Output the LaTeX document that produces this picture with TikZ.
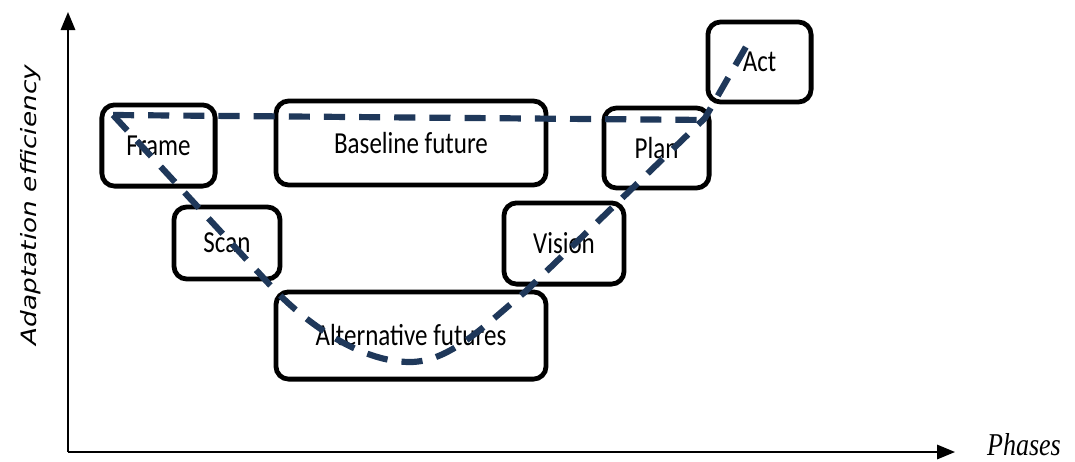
\documentclass[tikz,border=0pt]{standalone}
\usepackage{fontspec}
\setmainfont{Carlito}
\newfontfamily\axisfont{DejaVu Sans}
\newfontfamily\phasefont{Liberation Serif}
\usetikzlibrary{positioning}
\usetikzlibrary{arrows.meta}

\definecolor{routeblue}{RGB}{31,56,90}
\newcommand{\tall}[1]{\scalebox{1}[1.22]{#1}}

\begin{document}
\begin{tikzpicture}[x=0.025cm, y=-0.025cm,
  phase/.style={draw, line width=3.4pt, rounded corners=9pt, inner sep=0pt,
    font=\fontsize{17.8}{20}\selectfont},
  axis/.style={line width=1.4pt, -{Triangle[length=0.45cm, width=0.36cm]}},
  route/.style={routeblue, line width=4.4pt, dash pattern=on 15pt off 10pt}]
\useasboundingbox (0,0) rectangle (1075,461);

% axes
\coordinate (O) at (68,452);
\coordinate (Ytip) at (68,12);
\coordinate (Xtip) at (955,452);
\draw[axis] (O) -- (Ytip);
\draw[axis] (O) -- (Xtip);
\node[rotate=90, font=\axisfont\itshape\fontsize{15}{18}\selectfont]
  (ylab) at (31,205) {\scalebox{1.25}[1]{Adaptation efficiency}};
\node[inner sep=0pt, font=\phasefont\itshape\fontsize{18.5}{22}\selectfont]
  (xlab) at (1024,445) {\tall{Phases}};

% phases
\node[phase, minimum width=2.83cm, minimum height=2.03cm] (frame) at (158.5,145.5) {\tall{Frame}};
\node[phase, minimum width=2.65cm, minimum height=1.8cm] (scan) at (227,243) {\tall{Scan}};
\node[phase, minimum width=6.75cm, minimum height=2.1cm] (base) at (411,143) {\tall{Baseline future}};
\node[phase, minimum width=6.75cm, minimum height=2.18cm] (alt) at (411,335.5) {\tall{Alternative futures}};
\node[phase, minimum width=3.0cm, minimum height=2.03cm] (vision) at (564,243.5) {\tall{Vision}};
\node[phase, minimum width=2.63cm, minimum height=2.0cm] (plan) at (656.5,148) {\tall{Plan}};
\node[phase, minimum width=2.58cm, minimum height=2.0cm] (act) at (759.5,62) {\tall{Act}};

% dashed routes
\coordinate (start) at (113,115);
\coordinate (flatend) at (708,120);
\coordinate (down) at (270,285);
\coordinate (dip) at (410,362);
\coordinate (up) at (525,292);
\coordinate (kink) at (705,118);
\coordinate (top) at (747,45);

\draw[route] (start) -- (flatend);
\draw[route] (start) -- (down)
  .. controls (305,323) and (360,362) .. (dip)
  .. controls (450,362) and (485,325) .. (up)
  -- (kink) -- (top);
\end{tikzpicture}
\end{document}
